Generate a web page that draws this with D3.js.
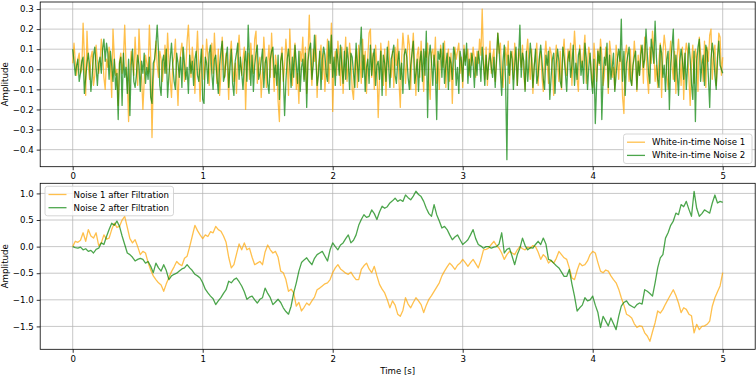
<!DOCTYPE html>
<html>
<head>
<meta charset="utf-8">
<script src="https://cdn.jsdelivr.net/npm/d3@7"></script>
<style>
  html, body { margin: 0; padding: 0; background: #fff; }
  svg { display: block; font-family: "DejaVu Sans", sans-serif; }
</style>
</head>
<body>
<svg id="chart" width="756" height="378"></svg>
<script>
// ---- Data ----
const seriesNames = ["White-in-time Noise 1", "White-in-time Noise 2"];
const filteredNames = ["Noise 1 after Filtration", "Noise 2 after Filtration"];
const xTicks = [0, 1, 2, 3, 4, 5];
const topYTicks = [-0.4, -0.3, -0.2, -0.1, 0.0, 0.1, 0.2, 0.3];
const bottomYTicks = [-1.5, -1.0, -0.5, 0.0, 0.5, 1.0];
const timeSpan = [0, 5];

// White noise 1 (orange), sampled every 0.01 s
const noise1 = [
 0.03,0.13,0.04,-0.03,0.05,0.08,-0.02,0.00,0.23,0.06,
 -0.13,0.19,0.02,-0.05,0.06,0.09,-0.08,-0.03,0.12,0.04,
 -0.02,0.03,0.15,0.07,-0.04,-0.10,0.05,0.01,0.11,0.02,
 -0.14,0.20,0.06,-0.03,0.00,-0.18,0.04,0.08,-0.02,0.05,
 0.22,0.03,-0.06,-0.26,-0.01,0.09,0.04,-0.03,0.16,0.02,
 -0.08,0.20,0.05,-0.04,-0.20,-0.06,0.07,0.03,-0.02,0.22,
 0.06,-0.34,-0.05,0.04,0.14,0.02,-0.04,0.09,0.05,-0.06,
 0.02,0.12,-0.02,0.18,0.04,-0.05,-0.14,0.03,0.06,0.15,
 -0.03,-0.18,0.02,0.08,0.13,0.05,-0.06,0.00,0.14,0.22,
 0.07,-0.04,0.11,0.03,-0.12,0.05,0.19,0.01,-0.16,0.04,
 0.12,-0.05,0.02,0.15,0.06,-0.08,0.04,0.13,-0.02,0.18,
 0.03,-0.07,0.10,-0.13,-0.03,0.16,0.05,-0.04,0.08,0.01,
 -0.15,0.07,0.14,0.02,-0.06,0.03,-0.12,0.09,0.17,0.04,
 -0.03,0.05,0.11,-0.20,0.01,0.08,-0.05,0.13,0.03,-0.02,
 0.15,0.19,-0.07,0.02,0.06,-0.14,-0.02,0.16,0.05,-0.09,
 0.03,0.12,-0.04,0.18,0.02,-0.11,0.07,0.01,-0.16,-0.26,
 0.04,0.11,-0.06,0.02,0.15,0.05,-0.13,0.20,0.03,-0.08,
 0.06,0.13,-0.10,-0.02,-0.17,0.09,0.04,0.16,-0.05,0.11,
 -0.12,0.07,0.27,0.03,-0.08,0.10,0.04,0.17,-0.14,0.02,
 0.06,0.12,-0.05,0.08,-0.11,0.01,0.15,-0.07,0.04,0.23,
 -0.21,0.02,0.09,-0.03,0.14,0.05,-0.08,0.11,-0.12,0.03,
 0.16,-0.06,0.01,0.13,0.05,-0.10,-0.15,0.02,0.10,-0.09,
 0.12,0.04,-0.07,0.15,0.00,0.09,-0.12,0.06,0.18,0.20,
 -0.04,0.08,-0.10,0.12,0.02,-0.24,-0.05,0.13,0.03,-0.08,
 0.10,-0.13,0.06,0.14,0.01,-0.04,0.09,-0.09,0.11,0.02,
 0.15,-0.06,-0.19,0.05,0.18,0.10,-0.07,0.04,0.17,0.12,
 -0.10,0.08,0.18,0.03,-0.13,0.07,0.11,-0.04,0.14,0.00,
 -0.11,0.09,0.06,0.13,-0.05,-0.15,0.08,0.10,0.02,0.16,
 -0.07,0.04,-0.10,0.12,0.07,0.01,0.14,-0.09,0.05,0.10,
 -0.06,0.08,-0.17,0.03,0.11,0.05,0.09,0.13,-0.02,0.06,
 -0.09,0.12,0.04,0.07,0.10,-0.03,0.08,0.02,0.11,0.05,
 -0.04,0.09,0.03,0.15,0.07,0.30,0.05,-0.05,0.11,-0.08,
 0.04,0.14,-0.02,0.06,0.10,-0.06,0.03,0.18,0.08,0.13,
 -0.04,-0.09,0.05,0.11,0.02,0.14,-0.07,0.07,0.09,-0.05,
 0.13,0.04,-0.08,0.10,0.06,0.01,0.12,-0.03,-0.10,0.08,
 0.15,0.03,-0.05,0.10,-0.12,0.02,0.07,0.13,-0.08,0.05,
 0.09,-0.04,-0.11,0.06,0.14,0.03,-0.07,0.11,0.08,-0.02,
 -0.13,0.05,0.12,0.02,-0.06,0.09,-0.10,0.07,0.15,0.01,
 -0.03,0.10,0.04,0.13,-0.08,0.06,0.19,0.08,-0.05,-0.11,
 0.12,0.05,0.01,0.09,0.17,-0.07,0.03,0.11,0.06,-0.02,
 -0.09,0.13,0.04,-0.06,0.10,0.02,0.15,0.07,-0.08,-0.03,
 0.11,0.05,-0.12,0.14,0.08,-0.04,0.01,-0.10,0.12,0.06,
 -0.05,0.09,0.03,-0.14,-0.22,0.07,0.12,0.04,-0.06,0.10,
 -0.08,0.02,0.14,0.05,-0.11,0.07,-0.03,0.12,0.09,-0.07,
 0.16,0.08,-0.04,-0.12,0.11,0.03,0.19,0.10,-0.06,0.02,
 -0.09,0.05,0.13,-0.14,0.08,0.17,0.11,-0.03,-0.10,0.06,
 0.14,0.02,-0.05,0.09,-0.12,0.07,0.15,0.04,-0.08,0.11,
 -0.15,0.06,0.13,0.09,-0.04,-0.18,0.03,0.12,-0.07,0.10,
 0.05,-0.11,0.16,0.08,0.02,-0.06,0.14,-0.09,0.11,0.04,
 0.17,0.20,-0.05,0.07,0.12,-0.08,0.03,0.18,0.16,-0.03,
 0.06
];

// White noise 2 (green), sampled every 0.01 s
const noise2 = [
 0.10,0.04,-0.03,0.02,0.05,-0.06,-0.02,0.04,0.06,-0.12,
 -0.04,0.03,0.08,0.02,-0.11,-0.03,0.07,0.11,0.01,-0.08,
 0.03,0.06,-0.02,0.10,0.15,0.04,0.13,0.08,-0.05,0.09,
 0.02,-0.06,0.05,-0.10,-0.02,-0.25,0.03,0.06,-0.18,0.08,
 -0.04,0.01,-0.12,0.05,-0.23,0.02,0.10,-0.06,-0.09,-0.03,
 0.07,0.02,-0.11,0.04,-0.02,0.08,-0.07,0.01,-0.05,0.06,
 -0.14,-0.17,0.03,0.05,0.12,0.22,0.09,-0.08,-0.13,0.04,
 0.07,-0.02,0.10,-0.14,-0.03,0.05,0.13,0.02,-0.06,-0.10,
 0.08,0.03,-0.04,0.06,-0.09,0.11,0.03,-0.05,0.01,-0.12,
 0.07,-0.02,0.04,-0.08,0.05,0.09,-0.03,-0.06,0.02,0.10,
 -0.15,-0.17,0.06,0.03,-0.07,0.08,0.12,-0.02,-0.10,0.05,
 0.07,-0.04,-0.12,0.02,0.09,0.14,-0.06,-0.03,0.06,0.11,
 -0.09,0.01,0.10,-0.07,-0.13,0.04,0.08,0.13,-0.05,0.06,
 -0.02,-0.10,0.03,0.09,-0.06,0.22,0.05,-0.08,0.07,-0.11,
 0.02,0.08,0.12,-0.05,-0.02,0.04,0.10,-0.09,0.03,0.06,
 -0.07,-0.12,0.05,0.09,0.11,-0.04,0.02,-0.08,0.07,-0.15,
 0.04,0.08,-0.03,-0.23,-0.06,0.05,0.10,0.02,-0.09,0.06,
 -0.04,0.12,0.03,-0.07,0.09,-0.11,0.01,0.05,-0.06,0.08,
 -0.19,0.04,0.10,0.13,-0.05,0.02,0.17,0.06,-0.08,-0.03,
 0.09,-0.10,0.05,0.11,0.07,-0.02,-0.06,0.14,0.03,0.17,
 -0.04,0.06,-0.08,0.10,0.05,-0.03,0.12,0.02,-0.07,0.09,
 -0.05,0.11,0.04,-0.10,0.08,0.06,-0.02,-0.09,0.13,0.03,
 -0.06,0.10,0.21,-0.04,0.07,-0.11,0.01,0.05,-0.07,0.12,
 -0.03,0.06,0.10,-0.08,0.02,0.04,-0.05,0.09,-0.13,0.07,
 0.03,-0.06,0.11,0.02,-0.09,0.05,0.08,0.12,-0.03,-0.07,
 0.04,0.09,-0.05,0.03,-0.12,0.07,0.10,0.06,-0.04,-0.10,
 0.02,0.08,0.14,-0.07,-0.02,0.05,-0.11,0.03,0.09,-0.06,
 0.10,-0.03,0.19,-0.24,0.06,0.12,0.04,-0.08,0.07,-0.02,
 -0.25,0.09,0.05,0.10,-0.04,0.13,-0.07,0.02,0.08,-0.10,
 0.06,0.03,-0.05,0.11,0.07,-0.08,0.01,-0.12,0.09,0.04,
 -0.06,0.10,0.02,0.13,-0.07,0.05,-0.04,0.08,0.03,-0.09,
 0.06,-0.03,0.09,0.04,-0.06,0.11,0.02,-0.08,0.07,-0.05,
 0.03,0.08,0.01,-0.04,0.06,-0.09,0.05,0.18,0.10,-0.02,
 -0.13,0.04,0.12,-0.06,-0.45,0.07,-0.03,0.09,0.05,-0.10,
 0.02,0.11,-0.08,0.06,0.22,-0.04,0.08,0.04,-0.11,0.09,
 -0.06,0.03,0.13,0.05,-0.09,0.01,0.10,-0.07,-0.03,0.06,
 0.12,0.04,-0.05,-0.10,0.07,0.02,0.09,-0.15,-0.04,0.05,
 0.08,-0.12,0.03,0.10,0.04,-0.06,-0.09,0.11,0.06,-0.02,
 -0.11,0.05,0.09,-0.04,0.02,0.12,-0.08,0.03,-0.05,0.07,
 0.10,-0.03,0.04,-0.07,0.13,0.06,-0.10,0.01,0.08,-0.05,
 -0.12,0.05,-0.27,-0.08,0.09,0.03,0.11,-0.25,-0.04,0.06,
 0.02,0.13,-0.09,0.07,-0.05,0.01,0.08,-0.11,-0.03,0.05,
 0.10,0.04,0.25,-0.06,0.09,-0.13,0.03,0.07,0.11,-0.05,
 -0.08,0.02,0.06,0.09,-0.10,0.04,-0.03,0.07,0.12,0.01,
 0.05,0.20,0.08,-0.02,-0.07,0.15,0.10,0.03,0.24,0.06,
 -0.05,-0.09,0.12,0.08,-0.04,0.02,-0.11,0.05,0.09,-0.20,
 0.03,0.11,0.20,-0.06,0.07,-0.02,-0.13,0.04,0.10,0.05,
 -0.05,0.08,-0.10,0.02,0.13,0.05,-0.07,-0.15,0.09,-0.26,
 0.04,0.11,0.15,-0.06,0.02,0.07,-0.08,0.12,0.09,-0.04,
 -0.19,0.05,0.13,0.08,-0.03,-0.10,0.06,0.14,0.02,0.00,
 -0.02
];

// Filtered noise 1 (orange), sampled every 0.02 s
const filtered1 = [
 0.00,0.10,0.08,0.12,0.26,0.10,0.32,0.20,0.16,0.26,
 0.02,0.07,0.22,0.14,0.16,0.32,0.44,0.36,0.38,0.50,
 0.57,0.36,0.15,0.07,0.13,0.00,-0.15,-0.09,-0.12,-0.30,
 -0.44,-0.55,-0.62,-0.68,-0.72,-0.84,-0.70,-0.58,-0.47,-0.38,
 -0.28,-0.33,-0.36,-0.22,-0.18,0.00,0.20,0.40,0.30,0.22,
 0.15,0.22,0.19,0.28,0.26,0.38,0.32,0.29,0.20,0.08,
 -0.20,-0.40,-0.34,-0.14,0.05,-0.06,0.07,-0.06,-0.03,-0.20,
 -0.34,-0.31,-0.28,-0.34,-0.10,0.03,-0.06,-0.12,-0.09,-0.20,
 -0.46,-0.49,-0.62,-0.84,-0.80,-0.87,-1.12,-1.05,-1.21,-1.14,
 -1.06,-1.10,-1.02,-0.95,-0.81,-0.78,-0.74,-0.70,-0.68,-0.62,
 -0.49,-0.40,-0.34,-0.42,-0.46,-0.50,-0.52,-0.48,-0.56,-0.62,
 -0.62,-0.43,-0.36,-0.31,-0.42,-0.49,-0.37,-0.55,-0.71,-0.80,
 -0.87,-1.00,-1.15,-1.02,-1.10,-1.27,-1.31,-1.20,-0.96,-1.08,
 -1.15,-1.05,-0.96,-1.02,-1.09,-1.24,-1.10,-0.99,-0.92,-0.84,
 -0.76,-0.68,-0.55,-0.46,-0.38,-0.31,-0.36,-0.43,-0.35,-0.31,
 -0.24,-0.30,-0.37,-0.30,-0.24,-0.32,-0.40,-0.25,-0.06,-0.05,
 -0.03,0.04,0.10,0.02,-0.03,-0.12,-0.24,-0.15,-0.09,-0.12,
 -0.15,-0.06,0.00,-0.04,-0.06,-0.01,-0.03,0.02,0.00,-0.10,
 -0.24,-0.15,-0.20,-0.31,-0.26,-0.31,-0.22,-0.09,-0.15,-0.21,
 -0.24,-0.40,-0.59,-0.62,-0.45,-0.31,-0.36,-0.34,-0.27,-0.15,
 -0.09,-0.12,-0.30,-0.46,-0.49,-0.44,-0.46,-0.55,-0.62,-0.68,
 -0.80,-0.96,-1.10,-1.27,-1.30,-1.34,-1.45,-1.52,-1.49,-1.50,
 -1.62,-1.68,-1.78,-1.60,-1.43,-1.21,-1.25,-1.18,-1.08,-0.99,
 -0.90,-0.81,-0.92,-1.06,-1.24,-1.15,-1.18,-1.27,-1.30,-1.62,
 -1.46,-1.56,-1.50,-1.49,-1.46,-1.40,-1.12,-0.96,-0.85,-0.74,
 -0.49
];

// Filtered noise 2 (green), sampled every 0.02 s
const filtered2 = [
 0.00,-0.02,-0.03,-0.01,-0.06,-0.04,-0.09,-0.07,-0.12,-0.05,
 -0.03,0.07,0.04,0.19,0.32,0.44,0.40,0.48,0.38,0.20,
 0.04,-0.12,-0.15,-0.20,-0.27,-0.24,-0.22,-0.24,-0.31,-0.28,
 -0.37,-0.49,-0.31,-0.40,-0.46,-0.34,-0.45,-0.62,-0.55,-0.52,
 -0.50,-0.46,-0.42,-0.40,-0.34,-0.40,-0.45,-0.52,-0.55,-0.59,
 -0.68,-0.80,-0.87,-0.93,-0.98,-1.09,-1.02,-0.96,-0.88,-0.81,
 -0.65,-0.68,-0.62,-0.59,-0.66,-0.74,-0.85,-0.99,-0.95,-0.93,
 -1.00,-1.06,-0.99,-0.96,-0.78,-0.88,-0.96,-1.09,-1.04,-0.99,
 -1.05,-1.15,-1.22,-1.27,-1.12,-0.87,-0.68,-0.46,-0.30,-0.25,
 -0.21,-0.28,-0.34,-0.22,-0.15,-0.12,-0.09,-0.18,-0.27,-0.06,
 0.07,0.00,-0.06,0.03,0.07,0.15,0.22,0.07,0.12,0.22,
 0.40,0.51,0.60,0.55,0.57,0.69,0.62,0.51,0.65,0.76,
 0.72,0.75,0.82,0.86,0.91,0.85,0.88,0.85,0.97,0.92,
 0.88,0.95,1.04,0.98,0.94,0.85,0.72,0.62,0.57,0.79,
 0.60,0.48,0.35,0.38,0.32,0.22,0.13,0.18,0.22,0.13,
 0.04,0.08,0.13,0.22,0.32,0.15,0.04,0.01,-0.03,0.00,
 0.00,-0.03,-0.01,0.00,0.05,0.26,-0.12,-0.05,-0.03,-0.18,
 -0.34,-0.15,-0.03,0.16,0.02,-0.06,-0.02,-0.03,0.04,0.10,
 0.04,0.16,0.05,-0.24,-0.26,-0.31,-0.36,-0.40,-0.48,-0.56,
 -0.56,-0.43,-0.70,-0.93,-1.21,-1.15,-1.10,-0.96,-1.02,-1.00,
 -0.93,-1.10,-1.24,-1.52,-1.31,-1.40,-1.49,-1.34,-1.45,-1.56,
 -1.31,-1.12,-1.05,-1.02,-1.09,-1.12,-1.15,-1.09,-1.06,-1.08,
 -0.81,-0.84,-0.88,-0.93,-0.68,-0.40,-0.21,-0.15,0.16,0.26,
 0.40,0.48,0.63,0.60,0.79,0.75,0.85,0.70,0.57,1.04,
 0.72,0.57,0.62,0.69,0.66,0.63,0.82,0.97,0.82,0.85,
 0.83
];

// ---- Drawing ----
const svg = d3.select("#chart");
const FONT = 8.6;
const colors = ["#FFA500", "#008000"];
const lineOpacity = 0.7;

const left = 40.2, right = 755.2;
const x = d3.scaleLinear().domain([-0.25, 5.25]).range([left, right]);

const panels = [
  { top: 2, bottom: 166.7, domain: [-0.485, 0.335], ticks: topYTicks, fmt: d3.format(".1f"),
    series: [noise1, noise2], names: seriesNames, legend: "br" },
  { top: 183.3, bottom: 349.3, domain: [-1.93, 1.19], ticks: bottomYTicks, fmt: d3.format(".1f"),
    series: [filtered1, filtered2], names: filteredNames, legend: "tl" }
];

panels.forEach((p, pi) => {
  const y = d3.scaleLinear().domain(p.domain).range([p.bottom, p.top]);
  const g = svg.append("g");

  const clipId = "clip" + pi;
  svg.append("clipPath").attr("id", clipId)
    .append("rect").attr("x", left).attr("y", p.top)
    .attr("width", right - left).attr("height", p.bottom - p.top);

  // grid
  g.append("g").selectAll("line").data(xTicks).join("line")
    .attr("x1", d => x(d)).attr("x2", d => x(d))
    .attr("y1", p.top).attr("y2", p.bottom)
    .attr("stroke", "#b0b0b0").attr("stroke-opacity", 0.7).attr("stroke-width", 1);
  g.append("g").selectAll("line").data(p.ticks).join("line")
    .attr("x1", left).attr("x2", right)
    .attr("y1", d => y(d)).attr("y2", d => y(d))
    .attr("stroke", "#b0b0b0").attr("stroke-opacity", 0.7).attr("stroke-width", 1);

  // lines
  const lineGroup = g.append("g").attr("clip-path", `url(#${clipId})`);
  p.series.forEach((vals, si) => {
    const dt = (timeSpan[1] - timeSpan[0]) / (vals.length - 1);
    const pts = vals.map((v, i) => [timeSpan[0] + i * dt, v]);
    lineGroup.append("path")
      .datum(pts)
      .attr("fill", "none")
      .attr("stroke", colors[si])
      .attr("stroke-opacity", lineOpacity)
      .attr("stroke-width", 1.3)
      .attr("stroke-linejoin", "round")
      .attr("d", d3.line().x(d => x(d[0])).y(d => y(d[1])));
  });

  // axes
  const xAxis = d3.axisBottom(x).tickValues(xTicks).tickFormat(d3.format("d"))
    .tickSize(3.5).tickPadding(3);
  const gx = g.append("g").attr("transform", `translate(0,${p.bottom})`).call(xAxis);
  const yAxis = d3.axisLeft(y).tickValues(p.ticks).tickFormat(p.fmt)
    .tickSize(3.5).tickPadding(3);
  const gy = g.append("g").attr("transform", `translate(${left},0)`).call(yAxis);
  [gx, gy].forEach(a => {
    a.select(".domain").remove();
    a.selectAll(".tick line").attr("stroke", "#000").attr("stroke-width", 0.8);
    a.selectAll(".tick text").attr("fill", "#000")
      .attr("font-size", FONT).attr("font-family", "DejaVu Sans, sans-serif");
  });

  // spines
  g.append("rect").attr("x", left).attr("y", p.top)
    .attr("width", right - left).attr("height", p.bottom - p.top)
    .attr("fill", "none").attr("stroke", "#000").attr("stroke-width", 0.8);

  // y label
  g.append("text")
    .attr("transform", `translate(8,${(p.top + p.bottom) / 2}) rotate(-90)`)
    .attr("text-anchor", "middle")
    .attr("font-size", FONT)
    .text("Amplitude");

  // legend
  const lw = 128.5, lh = 29.5;
  const lx = p.legend === "br" ? 623.5 : 45;
  const ly = p.legend === "br" ? 134 : 186.3;
  const lg = g.append("g").attr("transform", `translate(${lx},${ly})`);
  lg.append("rect").attr("width", lw).attr("height", lh)
    .attr("rx", 2.5).attr("ry", 2.5)
    .attr("fill", "#fff").attr("fill-opacity", 0.8)
    .attr("stroke", "#cccccc").attr("stroke-width", 0.8);
  p.names.forEach((name, i) => {
    const cy = 8.2 + i * 13.2;
    lg.append("line")
      .attr("x1", 3.5).attr("x2", 21.5).attr("y1", cy).attr("y2", cy)
      .attr("stroke", colors[i]).attr("stroke-opacity", lineOpacity).attr("stroke-width", 1.3);
    lg.append("text")
      .attr("x", 28.5).attr("y", cy).attr("dy", "0.35em")
      .attr("font-size", FONT).attr("fill", "#000")
      .text(name);
  });
});

// x label
svg.append("text")
  .attr("x", (left + right) / 2).attr("y", 371).attr("dy", "0.35em")
  .attr("text-anchor", "middle").attr("font-size", FONT)
  .text("Time [s]");
</script>
</body>
</html>
